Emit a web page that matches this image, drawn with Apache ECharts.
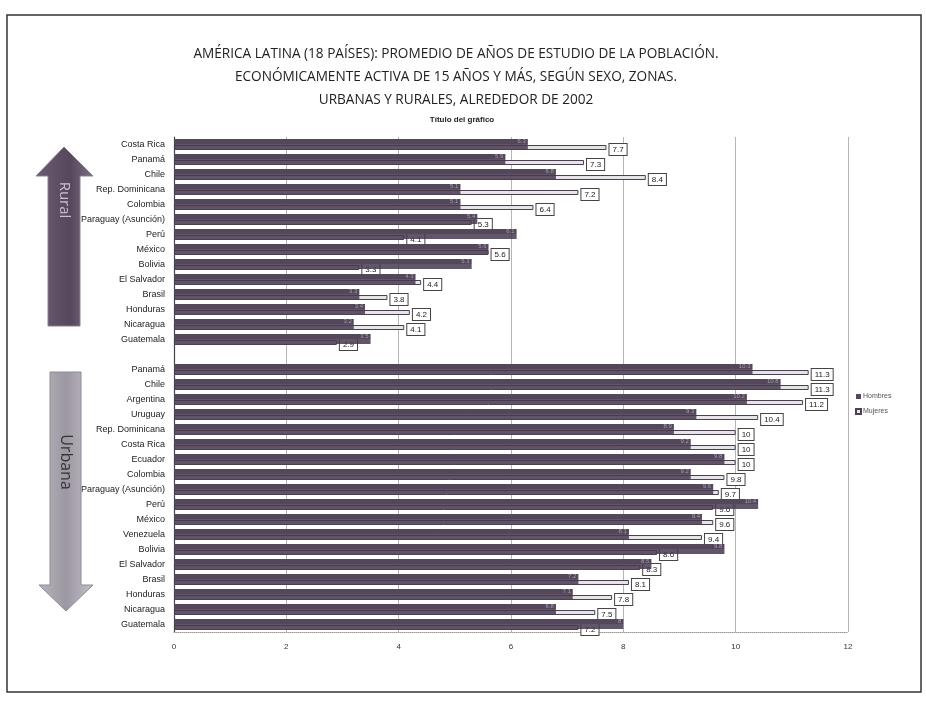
<!DOCTYPE html>
<html>
<head>
<meta charset="utf-8">
<script src="https://cdn.jsdelivr.net/npm/echarts@6/dist/echarts.min.js"></script>
<style>
  html, body { margin: 0; padding: 0; background: #ffffff; }
  #chart { width: 926px; height: 703px; }
</style>
</head>
<body>
<div id="chart"></div>
<script>
// ---- data ----
var catRural = ['Costa Rica', 'Panamá', 'Chile', 'Rep. Dominicana', 'Colombia', 'Paraguay (Asunción)', 'Perú', 'México', 'Bolivia', 'El Salvador', 'Brasil', 'Honduras', 'Nicaragua', 'Guatemala'];
var hombresRural = [6.3, 5.9, 6.8, 5.1, 5.1, 5.4, 6.1, 5.6, 5.3, 4.3, 3.3, 3.4, 3.2, 3.5];
var mujeresRural = [7.7, 7.3, 8.4, 7.2, 6.4, 5.3, 4.1, 5.6, 3.3, 4.4, 3.8, 4.2, 4.1, 2.9];

var catUrban = ['Panamá', 'Chile', 'Argentina', 'Uruguay', 'Rep. Dominicana', 'Costa Rica', 'Ecuador', 'Colombia', 'Paraguay (Asunción)', 'Perú', 'México', 'Venezuela', 'Bolivia', 'El Salvador', 'Brasil', 'Honduras', 'Nicaragua', 'Guatemala'];
var hombresUrban = [10.3, 10.8, 10.2, 9.3, 8.9, 9.2, 9.8, 9.2, 9.6, 10.4, 9.4, 8.1, 9.8, 8.5, 7.2, 7.1, 6.8, 8.0];
var mujeresUrban = [11.3, 11.3, 11.2, 10.4, 10, 10, 10, 9.8, 9.7, 9.6, 9.6, 9.4, 8.6, 8.3, 8.1, 7.8, 7.5, 7.2];

var seriesNames = ['Hombres', 'Mujeres'];
var xTicks = [0, 2, 4, 6, 8, 10, 12];
var titleLines = [
  'AMÉRICA LATINA (18 PAÍSES): PROMEDIO DE AÑOS DE ESTUDIO DE LA POBLACIÓN.',
  'ECONÓMICAMENTE ACTIVA DE 15 AÑOS Y MÁS, SEGÚN SEXO, ZONAS.',
  'URBANAS Y RURALES, ALREDEDOR DE 2002'
];
var subTitle = 'Título del gráfico';
var zoneNames = ['Rural', 'Urbana'];

// combined category list with an empty spacer row between zones
var categories = catRural.concat(['']).concat(catUrban);
var hombres = hombresRural.concat([null]).concat(hombresUrban);
var mujeres = mujeresRural.concat([null]).concat(mujeresUrban);

var chart = echarts.init(document.getElementById('chart'), null, { renderer: 'canvas' });

var option = {
  animation: false,
  backgroundColor: '#ffffff',
  textStyle: { fontFamily: 'Liberation Sans, Arial, sans-serif' },
  title: [
    {
      text: titleLines.join('\n'),
      left: 451,
      top: 38,
      textAlign: 'center',
      textStyle: {
        fontFamily: 'Open Sans, sans-serif',
        fontSize: 13.6,
        fontWeight: 'normal',
        color: '#222',
        lineHeight: 23
      }
    },
    {
      text: subTitle,
      left: 457,
      top: 111,
      textAlign: 'center',
      textStyle: {
        fontFamily: 'Liberation Sans, Arial, sans-serif',
        fontSize: 8,
        fontWeight: 'bold',
        color: '#222'
      }
    }
  ],
  legend: {
    data: seriesNames,
    orient: 'vertical',
    left: 850,
    top: 388,
    itemWidth: 5,
    itemHeight: 5,
    itemGap: 8,
    icon: 'rect',
    textStyle: { fontSize: 7, color: '#555', padding: [0, 0, 0, -3] }
  },
  grid: {
    left: 174,
    right: 78,
    top: 137,
    bottom: 71,
    show: false
  },
  xAxis: {
    type: 'value',
    min: 0,
    max: 12,
    interval: 2,
    axisLine: { show: true, lineStyle: { color: '#999', type: 'dotted', width: 1 } },
    axisTick: { show: false },
    axisLabel: {
      fontSize: 8,
      color: '#333',
      margin: 11,
      formatter: function (v) { return xTicks.indexOf(v) >= 0 ? String(v) : ''; }
    },
    splitLine: { show: true, lineStyle: { color: '#b5b5b5', width: 1 } }
  },
  yAxis: {
    type: 'category',
    data: categories,
    inverse: true,
    axisLine: { show: true, lineStyle: { color: '#444', width: 1.2 } },
    axisTick: { show: false },
    axisLabel: {
      fontSize: 9,
      color: '#222',
      margin: 9,
      interval: 0
    }
  },
  series: [
    {
      name: seriesNames[0],
      type: 'bar',
      data: hombres,
      barWidth: 5,
      barGap: '20%',
      z: 3,
      itemStyle: {
        color: '#55475b',
        shadowColor: 'rgba(70,58,78,0.85)',
        shadowOffsetY: 5,
        shadowBlur: 0
      },
      label: {
        show: true,
        position: 'insideRight',
        fontSize: 6,
        color: '#a79fae',
        distance: 2,
        formatter: function (p) { return p.value == null ? '' : p.value; }
      }
    },
    {
      name: seriesNames[1],
      type: 'bar',
      data: mujeres,
      barWidth: 5,
      z: 2,
      itemStyle: {
        color: '#e6e4e8',
        borderColor: '#4a4050',
        borderWidth: 1
      },
      label: {
        show: true,
        position: 'right',
        distance: 3,
        offset: [0, 2],
        fontSize: 8,
        color: '#222',
        backgroundColor: '#fff',
        borderColor: '#444',
        borderWidth: 1,
        padding: [2, 3, 1, 3],
        formatter: function (p) { return p.value == null ? '' : p.value; }
      }
    }
  ],
  graphic: [
    {
      type: 'rect',
      silent: true,
      shape: { x: 7, y: 15, width: 914, height: 677 },
      style: { fill: 'none', stroke: '#333', lineWidth: 1.5 },
      z: 0
    },
    {
      type: 'polygon',
      silent: true,
      shape: { points: [[64, 147], [93, 176], [80, 176], [80, 326], [48, 326], [48, 176], [36, 176]] },
      style: {
        fill: new echarts.graphic.LinearGradient(0, 0, 1, 0, [
          { offset: 0, color: '#6b5c72' },
          { offset: 0.6, color: '#56475d' },
          { offset: 1, color: '#7d7084' }
        ]),
        stroke: '#8a8090',
        lineWidth: 1
      },
      z: 1
    },
    {
      type: 'text',
      silent: true,
      x: 64,
      y: 200,
      rotation: -Math.PI / 2,
      style: {
        text: zoneNames[0],
        fontFamily: 'Open Sans, sans-serif',
        fontSize: 15,
        fill: '#c9c3cd',
        align: 'center',
        verticalAlign: 'middle'
      },
      z: 2
    },
    {
      type: 'polygon',
      silent: true,
      shape: { points: [[50, 372], [81, 372], [81, 585], [93, 585], [66, 611], [39, 585], [50, 585]] },
      style: {
        fill: new echarts.graphic.LinearGradient(0, 0, 1, 0, [
          { offset: 0, color: '#b9b5bd' },
          { offset: 0.5, color: '#9c97a2' },
          { offset: 1, color: '#c3c0c7' }
        ]),
        stroke: '#8f8996',
        lineWidth: 1
      },
      z: 1
    },
    {
      type: 'text',
      silent: true,
      x: 66,
      y: 462,
      rotation: -Math.PI / 2,
      style: {
        text: zoneNames[1],
        fontFamily: 'Open Sans, sans-serif',
        fontSize: 16,
        fill: '#333',
        align: 'center',
        verticalAlign: 'middle'
      },
      z: 2
    }
  ]
};

chart.setOption(option);
</script>
</body>
</html>
